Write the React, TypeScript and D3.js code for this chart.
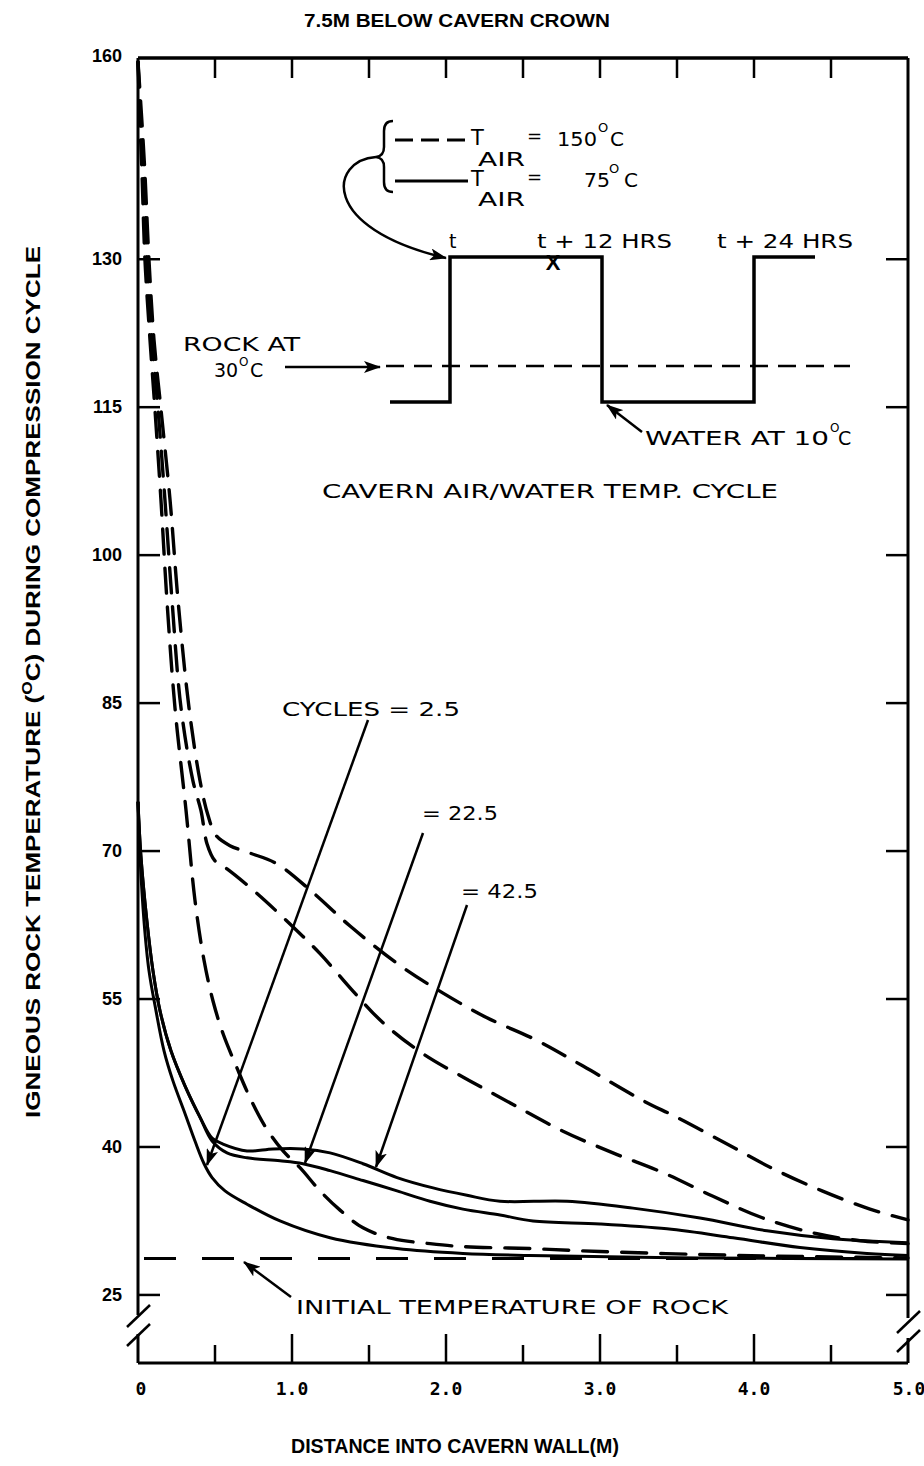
import React from 'react';
import * as d3 from 'd3';

const W = 924;
const H = 1466;

// Axis domains (frame top / bottom in data units)
const X_DOMAIN = [0, 5];
const Y_DOMAIN = [18.1, 150.4];

const yTickValues = [25, 40, 55, 70, 85, 100, 115, 130];
const yTopLabel = '160';
const xLabelValues = [0, 1, 2, 3, 4, 5];
const xLabels = ['0', '1.0', '2.0', '3.0', '4.0', '5.0'];
const xMinorTicks = [0.5, 1.5, 2.5, 3.5, 4.5];
const xTopTicks = [0.5, 1, 1.5, 2, 2.5, 3, 3.5, 4, 4.5];

const initialRockTemp = 28.7;

// T_AIR = 150 C (dashed), cycles 2.5
const dashedCycles2_5: [number, number][] = [
  [0, 150], [0.013, 143.8], [0.026, 138.7], [0.045, 130], [0.078, 121.8], [0.11, 114.8],
  [0.149, 105.6], [0.188, 95.4], [0.24, 84.55], [0.312, 74.1], [0.37, 65.0], [0.429, 58.9],
  [0.487, 54.8], [0.552, 51.5], [0.643, 48.0], [0.727, 45.0], [0.825, 42.1], [0.942, 39.6],
  [1.052, 37.9], [1.182, 35.55], [1.312, 33.6], [1.461, 31.8], [1.656, 30.7], [1.896, 30.2],
  [2.11, 29.9], [2.545, 29.7], [3.0, 29.4], [3.65, 29.1], [4.3, 28.9], [5.0, 28.75],
];
// T_AIR = 150 C (dashed), cycles 22.5
const dashedCycles22_5: [number, number][] = [
  [0, 150], [0.019, 143.8], [0.039, 138.7], [0.058, 130], [0.091, 121.8], [0.13, 114.8],
  [0.175, 105.6], [0.221, 95.4], [0.279, 84.55], [0.357, 77.1], [0.409, 74.1], [0.448, 70.75],
  [0.5, 69.0], [0.578, 68.2], [0.773, 65.7], [0.987, 62.6], [1.182, 59.6], [1.396, 55.8],
  [1.591, 52.6], [1.851, 49.45], [2.156, 46.7], [2.448, 44.2], [2.76, 41.6], [3.084, 39.4],
  [3.409, 37.4], [3.734, 35.0], [4.058, 32.8], [4.409, 31.2], [4.688, 30.5], [5.0, 30.2],
];
// T_AIR = 150 C (dashed), cycles 42.5
const dashedCycles42_5: [number, number][] = [
  [0, 150], [0.026, 143.8], [0.045, 138.7], [0.071, 130], [0.104, 121.8], [0.149, 114.8],
  [0.208, 105.6], [0.26, 95.4], [0.331, 84.55], [0.403, 77.1], [0.455, 73.6], [0.506, 71.6],
  [0.597, 70.55], [0.727, 69.8], [0.903, 68.7], [1.136, 65.8], [1.377, 62.4], [1.701, 58.4],
  [1.981, 55.6], [2.266, 53.1], [2.591, 50.8], [2.89, 48.2], [3.279, 44.7], [3.5, 43.0],
  [3.825, 40.3], [4.123, 37.8], [4.442, 35.55], [4.753, 33.7], [5.0, 32.6],
];
// T_AIR = 75 C (solid), cycles 2.5
const solidCycles2_5: [number, number][] = [
  [0, 75], [0.013, 69.5], [0.039, 62.9], [0.071, 57.9], [0.117, 53.8], [0.169, 49.75],
  [0.227, 46.7], [0.305, 43.4], [0.37, 40.6], [0.429, 38.3], [0.481, 36.9], [0.565, 35.55],
  [0.708, 34.2], [0.922, 32.5], [1.247, 30.8], [1.682, 29.7], [2.11, 29.2], [2.545, 29.0],
  [3.65, 28.75], [5.0, 28.65],
];
// T_AIR = 75 C (solid), cycles 22.5
const solidCycles22_5: [number, number][] = [
  [0, 75], [0.019, 69.5], [0.058, 62.9], [0.097, 57.9], [0.143, 53.8], [0.214, 49.75],
  [0.305, 46.2], [0.403, 43.0], [0.481, 40.6], [0.578, 39.4], [0.708, 38.9], [0.922, 38.6],
  [1.071, 38.3], [1.247, 37.6], [1.461, 36.6], [1.682, 35.55], [1.896, 34.5], [2.11, 33.7],
  [2.351, 33.1], [2.565, 32.5], [3.0, 32.2], [3.435, 31.7], [3.864, 30.8], [4.299, 29.8],
  [4.734, 29.2], [5.0, 29.0],
];
// T_AIR = 75 C (solid), cycles 42.5
const solidCycles42_5: [number, number][] = [
  [0, 75], [0.019, 69.5], [0.058, 62.9], [0.097, 57.9], [0.143, 53.8], [0.214, 49.75],
  [0.305, 46.2], [0.403, 43.0], [0.481, 40.9], [0.552, 40.3], [0.708, 39.6], [0.877, 39.8],
  [1.071, 39.8], [1.247, 39.4], [1.461, 38.3], [1.682, 36.9], [1.916, 35.85], [2.136, 35.1],
  [2.351, 34.5], [2.786, 34.5], [3.214, 33.8], [3.649, 32.8], [4.084, 31.5], [4.513, 30.7],
  [5.0, 30.3],
];

const dashedSeries = [dashedCycles2_5, dashedCycles22_5, dashedCycles42_5];
const solidSeries = [solidCycles2_5, solidCycles22_5, solidCycles42_5];

const SANS = '"Liberation Sans", Arial, sans-serif';
const MONO = '"DejaVu Sans Mono", "Liberation Mono", monospace';
const GOTHIC = '"DejaVu Sans", "Liberation Sans", sans-serif';

export default function App() {
  const L = 138, R = 908, T = 58, B = 1363;
  const x = d3.scaleLinear().domain(X_DOMAIN).range([L, R]);
  const y = d3.scaleLinear().domain(Y_DOMAIN).range([B, T]);
  const line = d3
    .line<[number, number]>()
    .x((d) => x(d[0]))
    .y((d) => y(d[1]))
    .curve(d3.curveCatmullRom.alpha(0.5));

  const G = (txt: string, px: number, py: number, len: number, fs = 19) => (
    <text x={px} y={py} fontSize={fs} textLength={len} lengthAdjust="spacingAndGlyphs">{txt}</text>
  );

  return (
    <svg
      width={W}
      height={H}
      viewBox={`0 0 ${W} ${H}`}
      style={{ position: 'absolute', left: 0, top: 0, background: '#fff' }}
    >
      <defs>
        <marker id="ah" markerUnits="userSpaceOnUse" markerWidth="18" markerHeight="12" refX="16" refY="6" orient="auto">
          <path d="M0,0 L17,6 L0,12 L4,6 Z" fill="#000" />
        </marker>
      </defs>
      <rect x={0} y={0} width={W} height={H} fill="#fff" />

      {/* Title */}
      <text x={457} y={27} textAnchor="middle" fontFamily={SANS} fontWeight="bold" fontSize={19} textLength={306} lengthAdjust="spacingAndGlyphs">
        7.5M BELOW CAVERN CROWN
      </text>

      {/* Frame */}
      <line x1={L} y1={T} x2={R} y2={T} stroke="#000" strokeWidth={3.5} />
      <line x1={L} y1={B} x2={R} y2={B} stroke="#000" strokeWidth={3} />
      <line x1={L} y1={T} x2={L} y2={1315} stroke="#000" strokeWidth={3} />
      <line x1={L} y1={1334} x2={L} y2={B} stroke="#000" strokeWidth={3} />
      <line x1={R} y1={T} x2={R} y2={1318} stroke="#000" strokeWidth={3} />
      <line x1={R} y1={1338} x2={R} y2={B} stroke="#000" strokeWidth={3} />
      {/* axis breaks */}
      <line x1={127} y1={1327} x2={150} y2={1305} stroke="#000" strokeWidth={2.5} />
      <line x1={127} y1={1346} x2={150} y2={1324} stroke="#000" strokeWidth={2.5} />
      <line x1={897} y1={1333} x2={920} y2={1311} stroke="#000" strokeWidth={2.5} />
      <line x1={897} y1={1352} x2={920} y2={1330} stroke="#000" strokeWidth={2.5} />

      {/* Y ticks */}
      {yTickValues.map((v) => (
        <g key={'yt' + v}>
          <line x1={L} x2={L + 22} y1={y(v)} y2={y(v)} stroke="#000" strokeWidth={2.5} />
          <line x1={R - 22} x2={R} y1={y(v)} y2={y(v)} stroke="#000" strokeWidth={2.5} />
          <text x={122} y={y(v) + 6} textAnchor="end" fontFamily={SANS} fontWeight="bold" fontSize={18}>
            {v}
          </text>
        </g>
      ))}
      <text x={122} y={T + 4} textAnchor="end" fontFamily={SANS} fontWeight="bold" fontSize={18}>
        {yTopLabel}
      </text>

      {/* X ticks */}
      {xLabelValues.slice(1, -1).map((v) => (
        <line key={'xM' + v} x1={x(v)} x2={x(v)} y1={B} y2={B - 29} stroke="#000" strokeWidth={2.5} />
      ))}
      {xMinorTicks.map((v) => (
        <line key={'xm' + v} x1={x(v)} x2={x(v)} y1={B} y2={B - 18} stroke="#000" strokeWidth={2.5} />
      ))}
      {xTopTicks.map((v) => (
        <line key={'xt' + v} x1={x(v)} x2={x(v)} y1={T} y2={T + 20} stroke="#000" strokeWidth={2.5} />
      ))}
      {xLabelValues.map((v, i) => (
        <text
          key={'xl' + v}
          x={i === xLabelValues.length - 1 ? x(v) + 1 : x(v) + (i === 0 ? 3 : 0)}
          y={1395}
          textAnchor="middle"
          fontFamily={MONO}
          fontWeight="bold"
          fontSize={18}
        >
          {xLabels[i]}
        </text>
      ))}

      {/* Axis titles */}
      <text x={455} y={1453} textAnchor="middle" fontFamily={SANS} fontWeight="bold" fontSize={20} textLength={328} lengthAdjust="spacingAndGlyphs">
        DISTANCE INTO CAVERN WALL(M)
      </text>
      <text
        transform="translate(40,682) rotate(-90)"
        textAnchor="middle"
        fontFamily={SANS}
        fontSize={21}
        fontWeight="bold"
        textLength={872}
        lengthAdjust="spacingAndGlyphs"
      >
        IGNEOUS ROCK TEMPERATURE (<tspan dy={-8} fontSize={14}>O</tspan>
        <tspan dy={8}>C) DURING COMPRESSION CYCLE</tspan>
      </text>

      {/* Initial temperature line */}
      <line
        x1={x(0) + 6}
        x2={x(5)}
        y1={y(initialRockTemp)}
        y2={y(initialRockTemp)}
        stroke="#000"
        strokeWidth={3}
        strokeDasharray="32 26"
      />

      {/* Curves */}
      {dashedSeries.map((s, i) => (
        <path key={'d' + i} d={line(s) || ''} fill="none" stroke="#000" strokeWidth={3.4} strokeDasharray="25 14" strokeLinecap="round" />
      ))}
      {solidSeries.map((s, i) => (
        <path key={'s' + i} d={line(s) || ''} fill="none" stroke="#000" strokeWidth={3} />
      ))}

      {/* Legend */}
      <path d="M393,121 Q384,121 384,131 L384,147 Q384,156 376,157 Q384,158 384,167 L384,182 Q384,192 393,192" fill="none" stroke="#000" strokeWidth={2.5} />
      <line x1={395} x2={466} y1={140} y2={140} stroke="#000" strokeWidth={3} strokeDasharray="18 8" />
      <line x1={395} x2={468} y1={181} y2={181} stroke="#000" strokeWidth={3} />
      <g fontFamily={GOTHIC} fill="#000">
        <text x={471} y={145} fontSize={21}>T</text>
        <text x={478} y={166} fontSize={19} textLength={47} lengthAdjust="spacingAndGlyphs">AIR</text>
        <text x={527} y={142} fontSize={18}>=</text>
        <text x={557} y={146} fontSize={20} textLength={40} lengthAdjust="spacingAndGlyphs">150</text>
        <text x={598} y={132} fontSize={13}>O</text>
        <text x={610} y={146} fontSize={20}>C</text>

        <text x={471} y={186} fontSize={21}>T</text>
        <text x={478} y={206} fontSize={19} textLength={47} lengthAdjust="spacingAndGlyphs">AIR</text>
        <text x={527} y={183} fontSize={18}>=</text>
        <text x={584} y={187} fontSize={20} textLength={26} lengthAdjust="spacingAndGlyphs">75</text>
        <text x={609} y={173} fontSize={13}>O</text>
        <text x={624} y={187} fontSize={20}>C</text>
      </g>
      <path d="M376,157 C330,160 318,228 446,258" fill="none" stroke="#000" strokeWidth={2.5} markerEnd="url(#ah)" />

      {/* Inset: cavern air/water temperature cycle */}
      <path d="M390,402 L450,402 L450,257 L602,257 L602,402 L754,402 L754,257 L815,257" fill="none" stroke="#000" strokeWidth={3.5} />
      <line x1={386} x2={850} y1={366} y2={366} stroke="#000" strokeWidth={2.5} strokeDasharray="18 10" />
      <text x={553} y={270} textAnchor="middle" fontFamily={SANS} fontWeight="bold" fontSize={22}>X</text>
      <g fontFamily={GOTHIC} fill="#000">
        <text x={449} y={248} fontSize={19}>t</text>
        {G('t + 12 HRS', 537, 248, 135)}
        {G('t + 24 HRS', 717, 248, 136)}
        {G('ROCK AT', 183, 351, 117)}
        <text x={214} y={377} fontSize={19}>30</text>
        <text x={239} y={366} fontSize={12}>O</text>
        <text x={250} y={377} fontSize={19}>C</text>
        {G('WATER AT 10', 645, 445, 184)}
        <text x={830} y={432} fontSize={12}>O</text>
        <text x={838} y={445} fontSize={19}>C</text>
        {G('CAVERN AIR/WATER TEMP. CYCLE', 322, 498, 456)}
      </g>
      <line x1={285} x2={380} y1={367} y2={367} stroke="#000" strokeWidth={2.5} markerEnd="url(#ah)" />
      <line x1={642} x2={607} y1={432} y2={405} stroke="#000" strokeWidth={2.5} markerEnd="url(#ah)" />

      {/* Cycle labels */}
      <g fontFamily={GOTHIC} fill="#000">
        {G('CYCLES = 2.5', 282, 716, 178)}
        {G('= 22.5', 422, 820, 76)}
        {G('= 42.5', 461, 898, 77)}
        {G('INITIAL TEMPERATURE OF ROCK', 296, 1314, 432)}
      </g>
      <line x1={368} y1={720} x2={207} y2={1165} stroke="#000" strokeWidth={2.5} markerEnd="url(#ah)" />
      <line x1={423} y1={833} x2={305} y2={1163} stroke="#000" strokeWidth={2.5} markerEnd="url(#ah)" />
      <line x1={467} y1={905} x2={376} y2={1167} stroke="#000" strokeWidth={2.5} markerEnd="url(#ah)" />
      <line x1={291} y1={1297} x2={244} y2={1262} stroke="#000" strokeWidth={2.5} markerEnd="url(#ah)" />
    </svg>
  );
}
